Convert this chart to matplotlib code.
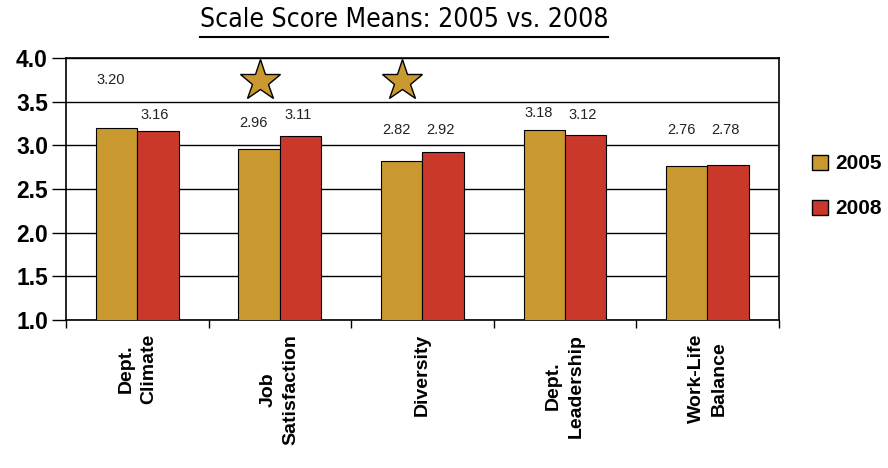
import matplotlib.pyplot as plt
from matplotlib.lines import Line2D
import numpy as np

# data dari gambar
kategori = ["Dept.\nClimate", "Job\nSatisfaction", "Diversity", "Dept.\nLeadership", "Work-Life\nBalance"]
nilai_2005 = [3.20, 2.96, 2.82, 3.18, 2.76]
nilai_2008 = [3.16, 3.11, 2.92, 3.12, 2.78]
bintang = [False, True, True, False, False]   # kategori yang diberi tanda bintang
tahun = ["2005", "2008"]

WARNA_2005 = "#C9982F"
WARNA_2008 = "#C9382B"

fig = plt.figure(figsize=(8.88, 4.68), dpi=100)
ax = fig.add_axes([0.0743, 0.316, 0.8027, 0.56])

x = np.arange(len(kategori))
lebar = 0.29

ax.bar(x - lebar / 2, nilai_2005, lebar, bottom=0, color=WARNA_2005, edgecolor="black",
       linewidth=0.8, label=tahun[0], zorder=3)
ax.bar(x + lebar / 2, nilai_2008, lebar, bottom=0, color=WARNA_2008, edgecolor="black",
       linewidth=0.8, label=tahun[1], zorder=3)

ax.set_ylim(1.0, 4.0)
ax.set_xlim(-0.5, len(kategori) - 0.5)
ax.set_yticks(np.arange(1.0, 4.01, 0.5))
ax.set_yticklabels([f"{v:.1f}" for v in np.arange(1.0, 4.01, 0.5)],
                   fontfamily="Liberation Sans", fontweight="bold", fontsize=16.5)
ax.yaxis.grid(True, color="black", linewidth=1.0, zorder=0)
ax.tick_params(axis="y", length=10, width=1.0, pad=3)

# label kategori di tengah, tick di batas kategori
ax.set_xticks(x)
ax.set_xticklabels(kategori, rotation=90, fontfamily="Liberation Sans", fontweight="bold",
                   fontsize=14, ha="center", va="top", multialignment="center",
                   linespacing=1.45)
ax.tick_params(axis="x", length=0, pad=10)
ax.set_xticks(np.arange(-0.5, len(kategori), 1.0), minor=True)
ax.tick_params(axis="x", which="minor", length=6, width=1.0)

for s in ax.spines.values():
    s.set_linewidth(1.2)

# label nilai (posisinya di gambar asli tidak konsisten)
geser_2005 = [0.55, 0.30, 0.36, 0.19, 0.42]
geser_2008 = [0.19, 0.24, 0.26, 0.23, 0.40]
for i in range(len(kategori)):
    ax.text(x[i] - lebar / 2 - 0.04, nilai_2005[i] + geser_2005[i], f"{nilai_2005[i]:.2f}",
            ha="center", va="center", fontsize=10.5, fontfamily="Liberation Sans", color="#222222")
    ax.text(x[i] + lebar / 2 - 0.02, nilai_2008[i] + geser_2008[i], f"{nilai_2008[i]:.2f}",
            ha="center", va="center", fontsize=10.5, fontfamily="Liberation Sans", color="#222222")
    if bintang[i]:
        ax.plot(x[i] - 0.14, 3.74, marker="*", markersize=31, color=WARNA_2005,
                markeredgecolor="black", markeredgewidth=1.0, zorder=4, clip_on=False)

leg = ax.legend(loc="center left", bbox_to_anchor=(1.035, 0.51), frameon=False,
                prop={"family": "Liberation Sans", "weight": "bold", "size": 15},
                handlelength=0.75, handleheight=0.75, handletextpad=0.35, labelspacing=1.25,
                borderaxespad=0)
for h in leg.legend_handles:
    h.set_linewidth(1.0)

# judul bergaris bawah
judul = fig.text(0.455, 0.957, "Scale Score Means: 2005 vs. 2008", ha="center", va="center",
                 fontsize=19, fontfamily="DejaVu Sans", fontstretch="condensed")
fig.canvas.draw()
bb = judul.get_window_extent().transformed(fig.transFigure.inverted())
fig.add_artist(Line2D([bb.x0, bb.x1], [bb.y0 - 0.008, bb.y0 - 0.008], color="black",
                      linewidth=1.5, transform=fig.transFigure))

fig.savefig("out.png", dpi=100)
